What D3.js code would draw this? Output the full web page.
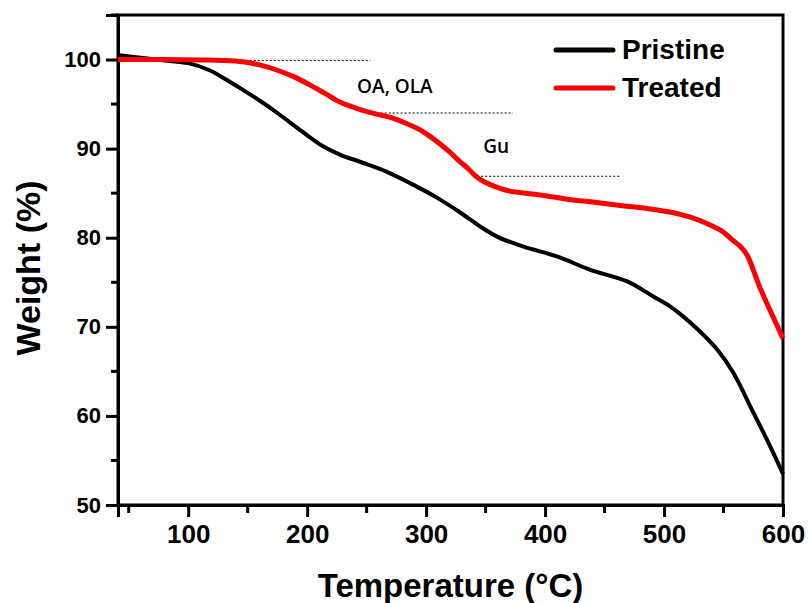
<!DOCTYPE html>
<html>
<head>
<meta charset="utf-8">
<script src="https://cdn.jsdelivr.net/npm/d3@7"></script>
<style>
  body { margin: 0; background: #fff; }
  svg { display: block; }
</style>
</head>
<body>
<div id="chart"></div>
<script>
/* TGA curves: weight (%) vs temperature */

// Pristine sample
const pristineT = [41, 60, 80, 100, 118, 130, 146, 160, 175, 190, 203, 213, 228, 245, 267, 287, 309, 329, 345, 360, 382, 410, 438, 469, 491, 505, 514, 530, 545, 558, 575, 587, 600];
const pristineW = [100.5, 100.2, 99.9, 99.6, 98.8, 97.9, 96.6, 95.4, 94.0, 92.5, 91.2, 90.3, 89.3, 88.5, 87.4, 86.1, 84.5, 82.8, 81.3, 80.1, 79.0, 77.9, 76.4, 75.1, 73.4, 72.3, 71.4, 69.5, 67.4, 64.9, 60.4, 57.2, 53.5];

// Treated sample
const treatedT = [41, 80, 110, 130, 146, 160, 175, 190, 203, 215, 228, 242, 256, 270, 284, 295, 303, 312, 320, 328, 335, 341, 346, 355, 368, 396, 420, 440, 465, 490, 508, 522, 536, 548, 558, 565, 570, 575, 580, 590, 600];
const treatedW = [100.0, 100.0, 99.95, 99.9, 99.75, 99.4, 98.8, 98.0, 97.1, 96.2, 95.2, 94.5, 93.95, 93.5, 92.8, 92.1, 91.4, 90.5, 89.6, 88.6, 87.8, 87.0, 86.5, 85.9, 85.3, 84.8, 84.3, 84.0, 83.6, 83.2, 82.8, 82.3, 81.6, 80.8, 79.7, 78.9, 78.0, 76.4, 74.6, 71.6, 68.7];

// dotted step markers and their labels
const stepStartT = [145, 255, 343];
const stepEndT = [253, 373, 463];
const stepW = [99.9, 94.0, 86.9];
const noteLabels = ['OA, OLA', 'Gu'];
const noteT = [242, 348];
const noteW = [96.2, 89.5];

const seriesNames = ['Pristine', 'Treated'];
const seriesColors = ['#000000', '#ff0000'];

const xTicks = [100, 200, 300, 400, 500, 600];
const yTicks = [50, 60, 70, 80, 90, 100];

const width = 808, height = 603;
const margin = { top: 15, right: 25, bottom: 98, left: 118 };

const svg = d3.select('#chart')
    .append('svg')
    .attr('width', width)
    .attr('height', height);

const x = d3.scaleLinear().domain([41, 600]).range([margin.left, width - margin.right]);
const y = d3.scaleLinear().domain([50, 105]).range([height - margin.bottom, margin.top]);

const font = "Arial, 'Liberation Sans', sans-serif";

// Frame (top and right)
svg.append('rect')
    .attr('x', x(41))
    .attr('y', y(105))
    .attr('width', x(600) - x(41))
    .attr('height', y(50) - y(105))
    .attr('fill', 'none')
    .attr('stroke', '#000')
    .attr('stroke-width', 3);

// X axis
const xAxis = svg.append('g')
    .attr('transform', `translate(0,${y(50)})`)
    .call(d3.axisBottom(x).tickValues(xTicks).tickSize(12).tickPadding(8).tickFormat(d3.format('d')));
xAxis.append('g')
    .selectAll('line')
    .data([50, 150, 250, 350, 450, 550])
    .enter()
    .append('line')
    .attr('x1', d => x(d)).attr('x2', d => x(d))
    .attr('y1', 0).attr('y2', 8)
    .attr('stroke', '#000').attr('stroke-width', 3);

// Y axis
const yAxis = svg.append('g')
    .attr('transform', `translate(${x(41)},0)`)
    .call(d3.axisLeft(y).tickValues(yTicks).tickSize(12).tickPadding(5));
yAxis.append('g')
    .selectAll('line')
    .data([55, 65, 75, 85, 95, 105])
    .enter()
    .append('line')
    .attr('y1', d => y(d)).attr('y2', d => y(d))
    .attr('x1', 0).attr('x2', -7)
    .attr('stroke', '#000').attr('stroke-width', 3);

[xAxis, yAxis].forEach(a => {
    a.select('.domain').attr('stroke-width', 3);
    a.selectAll('.tick line').attr('stroke-width', 3);
});
xAxis.selectAll('.tick text')
    .attr('font-family', font).attr('font-weight', 'bold').attr('font-size', '26px').attr('fill', '#000');
yAxis.selectAll('.tick text')
    .attr('font-family', font).attr('font-weight', 'bold').attr('font-size', '22px').attr('fill', '#000');

// Axis titles
svg.append('text')
    .attr('x', (x(41) + x(600)) / 2)
    .attr('y', 597)
    .attr('text-anchor', 'middle')
    .attr('font-family', font)
    .attr('font-weight', 'bold')
    .attr('font-size', '33px')
    .text('Temperature (°C)');

svg.append('text')
    .attr('transform', `translate(40,268) rotate(-90)`)
    .attr('text-anchor', 'middle')
    .attr('font-family', font)
    .attr('font-weight', 'bold')
    .attr('font-size', '34px')
    .text('Weight (%)');

// Dotted step markers
svg.append('g')
    .selectAll('line')
    .data(stepW)
    .enter()
    .append('line')
    .attr('x1', (d, i) => x(stepStartT[i]))
    .attr('x2', (d, i) => x(stepEndT[i]))
    .attr('y1', d => y(d))
    .attr('y2', d => y(d))
    .attr('stroke', '#000')
    .attr('stroke-width', 1)
    .attr('stroke-dasharray', '2,2');

svg.append('g')
    .selectAll('text')
    .data(noteLabels)
    .enter()
    .append('text')
    .attr('x', (d, i) => x(noteT[i]))
    .attr('y', (d, i) => y(noteW[i]))
    .attr('font-family', "'Open Sans', sans-serif")
    .attr('font-size', '19px')
    .attr('font-weight', 600)
    .attr('fill', '#000')
    .text(d => d);

// Curves
const line = d3.line()
    .x(d => x(d[0]))
    .y(d => y(d[1]))
    .curve(d3.curveCatmullRom.alpha(0.5));

const series = [
    d3.zip(pristineT, pristineW),
    d3.zip(treatedT, treatedW)
];

svg.append('g')
    .selectAll('path')
    .data(series)
    .enter()
    .append('path')
    .attr('d', line)
    .attr('fill', 'none')
    .attr('stroke', (d, i) => seriesColors[i])
    .attr('stroke-width', (d, i) => i === 0 ? 4 : 5)
    .attr('stroke-linejoin', 'round');

// Legend
const legend = svg.append('g').attr('transform', 'translate(556,50)');
seriesNames.forEach((name, i) => {
    const g = legend.append('g').attr('transform', `translate(0,${i * 38})`);
    g.append('line')
        .attr('x1', 0).attr('x2', 57)
        .attr('stroke', seriesColors[i])
        .attr('stroke-width', 5)
        .attr('stroke-linecap', 'round');
    g.append('text')
        .attr('x', 66)
        .attr('y', 9)
        .attr('font-family', font)
        .attr('font-weight', 'bold')
        .attr('font-size', '28px')
        .text(name);
});
</script>
</body>
</html>
